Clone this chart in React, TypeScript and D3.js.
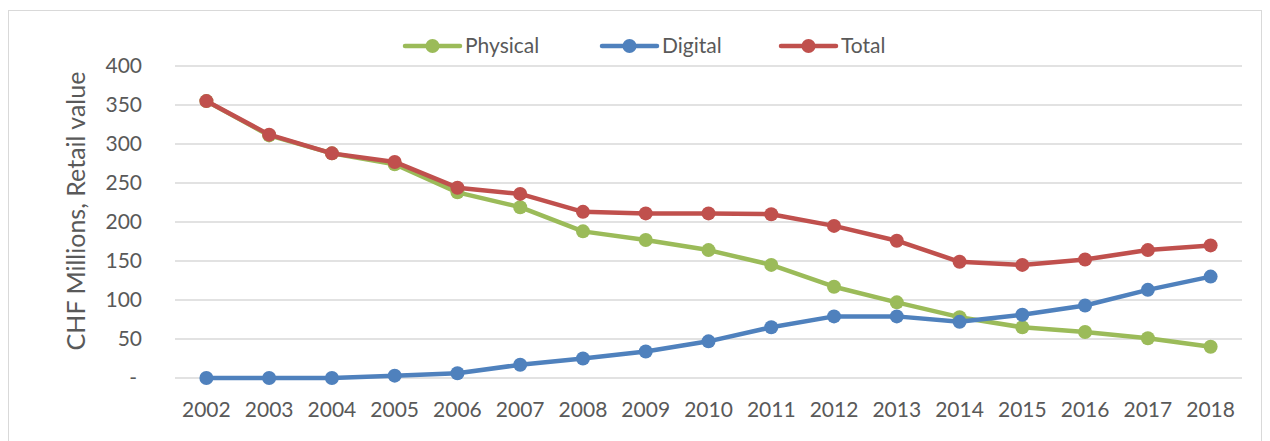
import React, { useRef, useEffect } from "react";
import * as d3 from "d3";

const years = [2002, 2003, 2004, 2005, 2006, 2007, 2008, 2009, 2010, 2011, 2012, 2013, 2014, 2015, 2016, 2017, 2018];
const physical = [355, 311, 288, 274, 238, 219, 188, 177, 164, 145, 117, 97, 78, 65, 59, 51, 40];
const digital = [0, 0, 0, 3, 6, 17, 25, 34, 47, 65, 79, 79, 72, 81, 93, 113, 130];
const total = [355, 312, 288, 277, 244, 236, 213, 211, 211, 210, 195, 176, 149, 145, 152, 164, 170];
const yTicks = [0, 50, 100, 150, 200, 250, 300, 350, 400];

const seriesList = [
  { name: "Physical", values: physical, color: "#9BBB59", legendX: 405 },
  { name: "Digital", values: digital, color: "#4F81BD", legendX: 602 },
  { name: "Total", values: total, color: "#C0504D", legendX: 781 },
];

const W = 1270;
const H = 441;
const FONT = "Lato, 'Open Sans', sans-serif";

const App: React.FC = () => {
  const svgRef = useRef<SVGSVGElement>(null);

  useEffect(() => {
    if (!svgRef.current) return;
    const svg = d3.select(svgRef.current);
    svg.selectAll("*").remove();

    const left = 175;
    const right = 1242;

    const x = d3
      .scalePoint<number>()
      .domain(years)
      .range([left, right])
      .padding(0.5);
    const y = d3.scaleLinear().domain([0, 400]).range([378, 66]);

    // chart frame
    svg
      .append("rect")
      .attr("x", 8.5)
      .attr("y", 10.5)
      .attr("width", W - 17)
      .attr("height", H + 20)
      .attr("fill", "#fff")
      .attr("stroke", "#d9d9d9");

    // gridlines
    svg
      .append("g")
      .selectAll("line")
      .data(yTicks)
      .join("line")
      .attr("x1", left)
      .attr("x2", right)
      .attr("y1", (d) => y(d))
      .attr("y2", (d) => y(d))
      .attr("stroke", "#d9d9d9")
      .attr("stroke-width", 1.5);

    // y tick labels
    svg
      .append("g")
      .selectAll("text")
      .data(yTicks)
      .join("text")
      .attr("x", (d) => (d === 0 ? 137 : 142))
      .attr("y", (d) => y(d))
      .attr("dy", "0.35em")
      .attr("text-anchor", "end")
      .attr("font-family", FONT)
      .attr("font-size", 21)
      .attr("fill", "#595959")
      .text((d) => (d === 0 ? "-" : String(d)));

    // x tick labels
    svg
      .append("g")
      .selectAll("text")
      .data(years)
      .join("text")
      .attr("x", (d) => x(d)!)
      .attr("y", 410)
      .attr("dy", "0.35em")
      .attr("text-anchor", "middle")
      .attr("font-family", FONT)
      .attr("font-size", 21)
      .attr("fill", "#595959")
      .text((d) => String(d));

    // y axis title
    svg
      .append("text")
      .attr("transform", `translate(85,211) rotate(-90)`)
      .attr("text-anchor", "middle")
      .attr("font-family", FONT)
      .attr("font-size", 25)
      .attr("fill", "#595959")
      .text("CHF Millions, Retail value");

    const line = d3
      .line<number>()
      .x((_, i) => x(years[i])!)
      .y((d) => y(d));

    seriesList.forEach((s) => {
      const g = svg.append("g");
      g.append("path")
        .attr("d", line(s.values))
        .attr("fill", "none")
        .attr("stroke", s.color)
        .attr("stroke-width", 4.5)
        .attr("stroke-linejoin", "round")
        .attr("stroke-linecap", "round");
      g.selectAll("circle")
        .data(s.values)
        .join("circle")
        .attr("cx", (_, i) => x(years[i])!)
        .attr("cy", (d) => y(d))
        .attr("r", 7)
        .attr("fill", s.color);

      // legend entry
      const lg = svg.append("g").attr("transform", `translate(${s.legendX},46)`);
      lg.append("line")
        .attr("x1", 0)
        .attr("x2", 55)
        .attr("stroke", s.color)
        .attr("stroke-width", 4.5)
        .attr("stroke-linecap", "round");
      lg.append("circle").attr("cx", 27.5).attr("r", 7).attr("fill", s.color);
      lg.append("text")
        .attr("x", 60)
        .attr("dy", "0.35em")
        .attr("font-family", FONT)
        .attr("font-size", 21)
        .attr("fill", "#595959")
        .text(s.name);
    });
  }, []);

  return (
    <svg
      ref={svgRef}
      width={W}
      height={H}
      style={{ position: "absolute", left: 0, top: 0, display: "block" }}
    />
  );
};

export default App;
